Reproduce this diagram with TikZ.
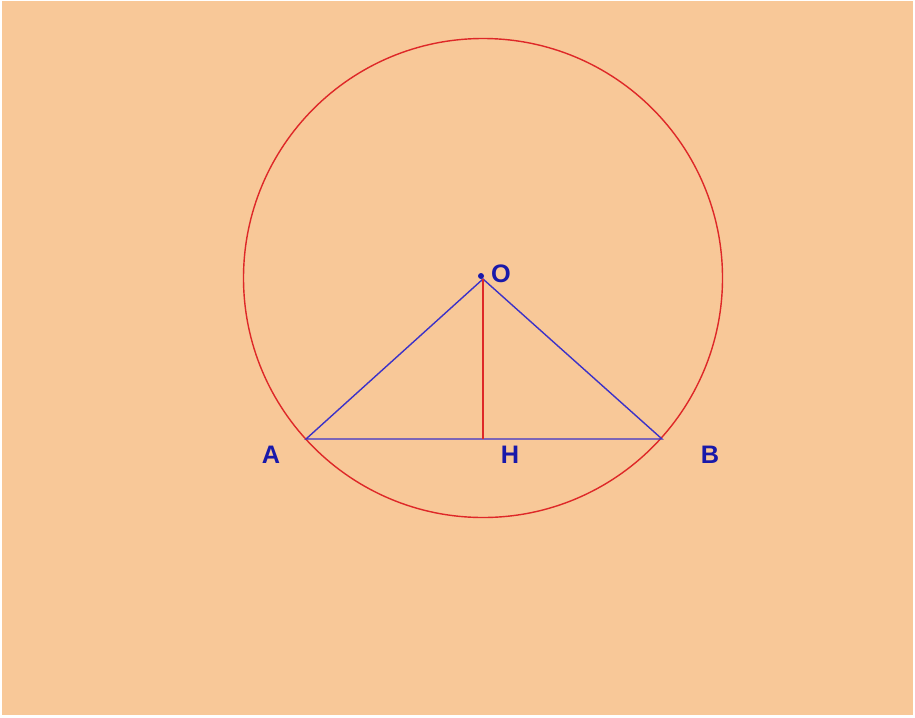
\documentclass[tikz,border=0pt]{standalone}
\usepackage{fontspec}
\setsansfont{Liberation Sans}
\usepackage{xcolor}
\usepackage{tikz}
\definecolor{paperpeach}{RGB}{248,200,152}
\definecolor{circlered}{RGB}{222,40,40}
\definecolor{segblue}{RGB}{60,50,200}
\definecolor{labelblue}{RGB}{25,25,170}
\usetikzlibrary{calc}

\begin{document}
\begin{tikzpicture}[
    x=0.02cm, y=-0.02cm,
    ptlabel/.style={font=\sffamily\bfseries\Large, text=labelblue, inner sep=0pt},
    bluesegment/.style={segblue, line width=0.8pt},
    redline/.style={circlered, line width=0.8pt},
]
% Background
\fill[white] (0,0) rectangle (915,717);
\fill[paperpeach] (2,1) rectangle (913,715);
\useasboundingbox (0,0) rectangle (915,717);

% Points
\coordinate (O) at (483,279);
\coordinate (A) at (306,439);
\coordinate (B) at (662,439);
\coordinate (H) at (483,439);

% Circle
\draw[redline] (483,278) circle (239.5);

% Triangle and height
\draw[bluesegment] (A) -- (O) -- (B) -- cycle;
\draw[redline] (O) -- (H);
\fill[labelblue] (481,276) circle (3);

% Labels
\node (lO) [ptlabel] at (501,274) {O};
\node (lA) [ptlabel] at (271,455) {A};
\node (lH) [ptlabel] at (510,455) {H};
\node (lB) [ptlabel] at (710,455) {B};

\end{tikzpicture}
\end{document}
